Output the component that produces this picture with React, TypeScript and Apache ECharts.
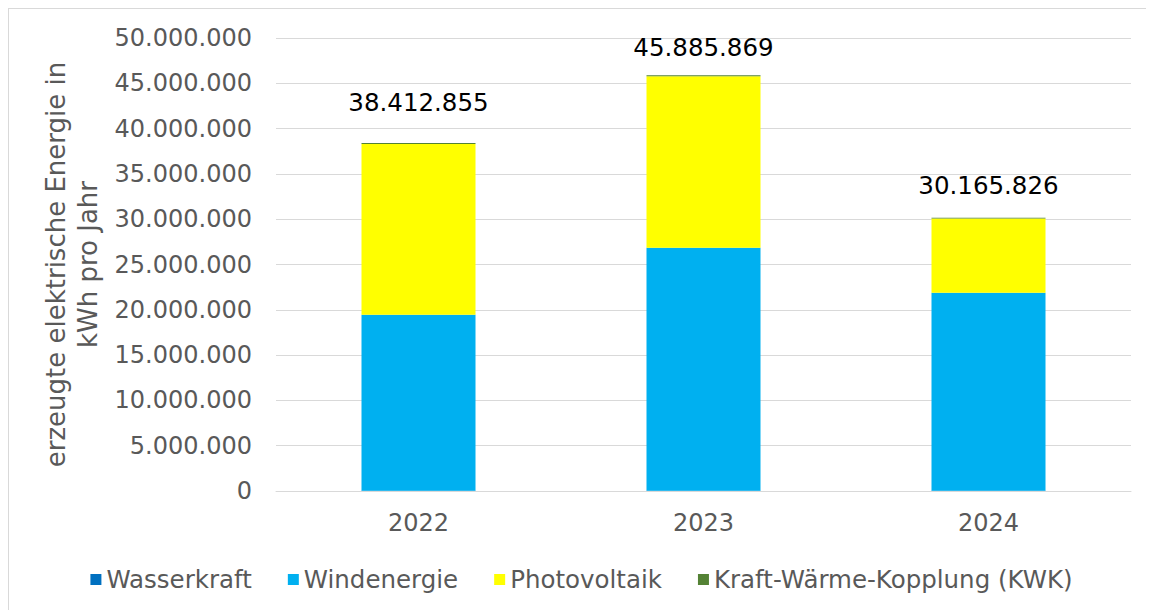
import React, { useEffect, useRef } from "react";
import * as echarts from "echarts";

const years = ["2022", "2023", "2024"];
const wasserkraft = [30000, 30000, 30000];
const windenergie = [19430000, 26820000, 21850000];
const kwk = [110000, 120000, 100000];
const totals = [38412855, 45885869, 30165826];
const photovoltaik = totals.map((t, i) => t - wasserkraft[i] - windenergie[i] - kwk[i]);
const yTicks = [0, 5000000, 10000000, 15000000, 20000000, 25000000, 30000000, 35000000, 40000000, 45000000, 50000000];

const fmt = (v: number) => String(Math.round(v)).replace(/\B(?=(\d{3})+(?!\d))/g, ".");

export default function App() {
  const ref = useRef<HTMLDivElement>(null);
  useEffect(() => {
    if (!ref.current) return;
    const chart = echarts.init(ref.current, null, { renderer: "svg" });
    const font = "DejaVu Sans";
    const labelDistances = [28, 15, 20];
    chart.setOption({
      animation: false,
      textStyle: { fontFamily: font },
      grid: { left: 267, right: 23, top: 29, bottom: 119 },
      legend: {
        bottom: 13,
        left: "center",
        itemWidth: 11,
        itemHeight: 11,
        itemGap: 36,
        icon: "rect",
        textStyle: { fontSize: 24.5, color: "#595959", fontFamily: font },
        data: ["Wasserkraft", "Windenergie", "Photovoltaik", "Kraft-Wärme-Kopplung (KWK)"],
      },
      xAxis: {
        type: "category",
        data: years,
        axisLine: { lineStyle: { color: "#d9d9d9", width: 1 } },
        axisTick: { show: false },
        axisLabel: { fontSize: 24, color: "#595959", margin: 20 },
      },
      yAxis: {
        type: "value",
        min: yTicks[0],
        max: yTicks[yTicks.length - 1],
        interval: yTicks[1] - yTicks[0],
        name: "erzeugte elektrische Energie in\nkWh pro Jahr",
        nameLocation: "middle",
        nameGap: 170,
        nameTextStyle: { fontSize: 26, color: "#595959", lineHeight: 32 },
        axisLabel: { fontSize: 24, color: "#595959", margin: 24, formatter: (v: number) => fmt(v) },
        splitLine: { lineStyle: { color: "#d9d9d9", width: 1 } },
        axisLine: { show: false },
        axisTick: { show: false },
      },
      series: [
        { name: "Wasserkraft", type: "bar", stack: "a", barWidth: "40%", data: wasserkraft, itemStyle: { color: "#0070C0" } },
        { name: "Windenergie", type: "bar", stack: "a", barWidth: "40%", data: windenergie, itemStyle: { color: "#00B0F0" } },
        { name: "Photovoltaik", type: "bar", stack: "a", barWidth: "40%", data: photovoltaik, itemStyle: { color: "#FFFF00" } },
        {
          name: "Kraft-Wärme-Kopplung (KWK)",
          type: "bar",
          stack: "a",
          barWidth: "40%",
          itemStyle: { color: "#548235" },
          data: kwk.map((v, i) => ({
            value: v,
            label: {
              show: true,
              position: "top",
              distance: labelDistances[i],
              formatter: () => fmt(totals[i]),
              fontSize: 24.5,
              color: "#000000",
              fontFamily: font,
            },
          })),
        },
      ],
    });
    return () => chart.dispose();
  }, []);
  return (
    <div
      style={{
        width: 1145,
        height: 601,
        borderTop: "1px solid #d9d9d9",
        borderLeft: "1px solid #d9d9d9",
        overflow: "hidden",
      }}
    >
      <div ref={ref} style={{ width: 1145, height: 601 }} />
    </div>
  );
}
